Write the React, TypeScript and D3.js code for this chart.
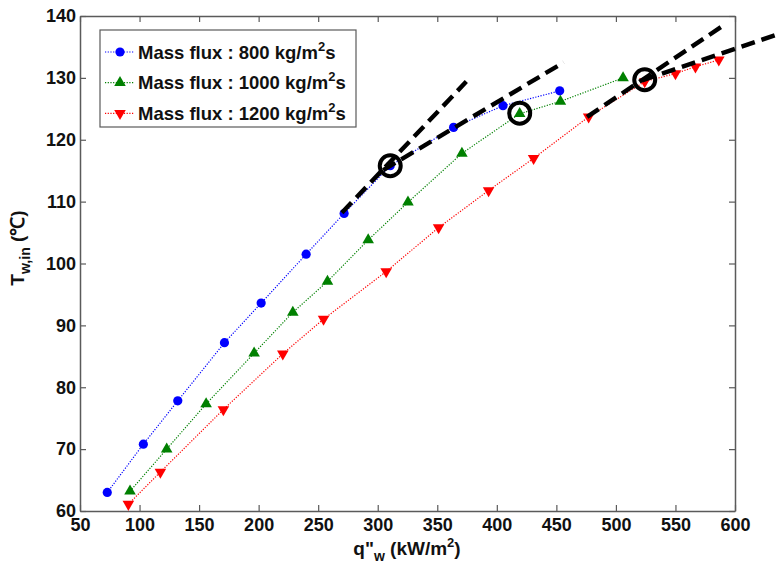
import React, { useEffect, useRef } from 'react';
import * as d3 from 'd3';

// heat flux q"w (kW/m2) and inner wall temperature (C) for each mass flux
const q800 = [72.9, 103.2, 132.1, 171.3, 202.1, 239.9, 271.8, 310.5, 363.7, 405.2, 452.8];
const t800 = [63.0, 70.8, 77.8, 87.2, 93.6, 101.5, 108.1, 115.8, 122.0, 125.5, 127.9];
const q1000 = [92.0, 122.8, 155.9, 196.2, 228.7, 257.8, 292.0, 325.4, 370.7, 419.2, 453.4, 506.0];
const t1000 = [63.2, 70.0, 77.3, 85.5, 92.1, 97.1, 103.8, 109.9, 117.8, 124.2, 126.2, 130.0];
const q1200 = [90.6, 117.5, 170.4, 220.3, 254.5, 307.1, 351.1, 393.1, 430.9, 477.1, 524.2, 550.0, 566.8, 586.4];
const t1200 = [61.1, 66.3, 76.4, 85.4, 91.0, 98.7, 105.8, 111.8, 117.0, 123.7, 129.4, 130.7, 131.8, 132.9];

const seriesNames = ['800', '1000', '1200'];
const seriesColors = ['#0000ff', '#008000', '#ff0000'];

// slope-change tangent lines [q1, T1, q2, T2]
const tangentLines = [
  [269.9, 108.2, 374.4, 129.4],
  [304.6, 115.1, 456.1, 132.5],
  [475.8, 123.7, 592.0, 138.7],
  [522.0, 129.6, 638.2, 137.2],
];
// transition points (circled)
const transitionQ = [310.5, 419.2, 524.2];
const transitionT = [115.8, 124.3, 129.7];

const xTicks = [50, 100, 150, 200, 250, 300, 350, 400, 450, 500, 550, 600];
const yTicks = [60, 70, 80, 90, 100, 110, 120, 130, 140];

const W = 780;
const H = 570;
const font = '"Liberation Sans", Arial, sans-serif';

const App = () => {
  const svgRef = useRef<SVGSVGElement>(null);

  useEffect(() => {
    const x = d3.scaleLinear().domain([50, 600]).range([80, 735]);
    const y = d3.scaleLinear().domain([60, 140]).range([511, 16]);
    const svg = d3.select(svgRef.current);
    svg.selectAll('*').remove();

    const axisColor = '#5a5a5a';

    // box + inward ticks (matlab style)
    const bottom = svg.append('g').attr('transform', `translate(0,${y(60)})`)
      .call(d3.axisBottom(x).tickValues(xTicks).tickSizeInner(-6).tickSizeOuter(0).tickPadding(6));
    const left = svg.append('g').attr('transform', `translate(${x(50)},0)`)
      .call(d3.axisLeft(y).tickValues(yTicks).tickSizeInner(-6).tickSizeOuter(0).tickPadding(4));
    const top = svg.append('g').attr('transform', `translate(0,${y(140)})`)
      .call(d3.axisTop(x).tickValues(xTicks).tickSizeInner(-6).tickSizeOuter(0).tickFormat(() => ''));
    const right = svg.append('g').attr('transform', `translate(${x(600)},0)`)
      .call(d3.axisRight(y).tickValues(yTicks).tickSizeInner(-6).tickSizeOuter(0).tickFormat(() => ''));
    [bottom, left, top, right].forEach(g => {
      g.select('.domain').attr('stroke', axisColor).attr('stroke-width', 1.5);
      g.selectAll('.tick line').attr('stroke', axisColor).attr('stroke-width', 1.2);
      g.selectAll('.tick text')
        .attr('font-family', font).attr('font-weight', 'bold').attr('font-size', 18).attr('fill', '#111');
    });
    bottom.selectAll('.tick text').attr('dy', '0.8em');

    const allQ = [q800, q1000, q1200];
    const allT = [t800, t1000, t1200];
    const line = d3.line<number>();

    const triUp = d3.symbol().type(d3.symbolTriangle).size(58);

    allQ.forEach((qs, i) => {
      const pts: [number, number][] = qs.map((q, j) => [x(q), y(allT[i][j])]);
      svg.append('path')
        .attr('d', line(pts as any))
        .attr('fill', 'none')
        .attr('stroke', seriesColors[i])
        .attr('stroke-width', 1.2)
        .attr('stroke-dasharray', '1.2,1.5');
      const g = svg.append('g');
      pts.forEach(([px, py]) => {
        if (i === 0) {
          g.append('circle').attr('cx', px).attr('cy', py).attr('r', 4.6).attr('fill', seriesColors[i]);
        } else {
          g.append('path')
            .attr('d', triUp()!)
            .attr('transform', `translate(${px},${py})${i === 2 ? ' rotate(180)' : ''}`)
            .attr('fill', seriesColors[i]);
        }
      });
    });

    // tangent dashed lines
    tangentLines.forEach(([q1, t1, q2, t2]) => {
      svg.append('line')
        .attr('x1', x(q1)).attr('y1', y(t1)).attr('x2', x(q2)).attr('y2', y(t2))
        .attr('stroke', '#000').attr('stroke-width', 4.4)
        .attr('stroke-dasharray', '14,7');
    });

    transitionQ.forEach((q, i) => {
      svg.append('circle')
        .attr('cx', x(q)).attr('cy', y(transitionT[i])).attr('r', 10.5)
        .attr('fill', 'none').attr('stroke', '#000').attr('stroke-width', 4);
    });

    // legend
    const lg = svg.append('g');
    lg.append('rect').attr('x', 100).attr('y', 30).attr('width', 256).attr('height', 97)
      .attr('fill', '#fff').attr('stroke', axisColor).attr('stroke-width', 1.2);
    seriesNames.forEach((name, i) => {
      const cy = 52 + i * 30.7;
      lg.append('line').attr('x1', 105).attr('x2', 134).attr('y1', cy).attr('y2', cy)
        .attr('stroke', seriesColors[i]).attr('stroke-width', 1.2).attr('stroke-dasharray', '1.2,1.5');
      if (i === 0) {
        lg.append('circle').attr('cx', 120).attr('cy', cy).attr('r', 4.6).attr('fill', seriesColors[i]);
      } else {
        lg.append('path').attr('d', triUp()!)
          .attr('transform', `translate(120,${cy})${i === 2 ? ' rotate(180)' : ''}`)
          .attr('fill', seriesColors[i]);
      }
      const t = lg.append('text').attr('x', 138).attr('y', cy + 6.5)
        .attr('font-family', font).attr('font-weight', 'bold').attr('font-size', 18.5).attr('fill', '#111');
      t.append('tspan').text(`Mass flux : ${name} kg/m`);
      t.append('tspan').attr('dy', -8).attr('font-size', 13).text('2');
      t.append('tspan').attr('dy', 8).text('s');
    });

    // x label
    const xl = svg.append('text').attr('x', 407).attr('y', 555).attr('text-anchor', 'middle')
      .attr('font-family', font).attr('font-weight', 'bold').attr('font-size', 19).attr('fill', '#111');
    xl.append('tspan').text('q"');
    xl.append('tspan').attr('dy', 6).attr('font-size', 14).text('w');
    xl.append('tspan').attr('dy', -6).text(' (kW/m');
    xl.append('tspan').attr('dy', -8).attr('font-size', 13).text('2');
    xl.append('tspan').attr('dy', 8).text(')');

    // y label
    const yl = svg.append('text')
      .attr('transform', `translate(24,248) rotate(-90)`)
      .attr('text-anchor', 'middle')
      .attr('font-family', font).attr('font-weight', 'bold').attr('font-size', 19).attr('fill', '#111');
    yl.append('tspan').text('T');
    yl.append('tspan').attr('dy', 6).attr('font-size', 14).text('w,in');
    yl.append('tspan').attr('dy', -6).text(' (℃)');
  }, []);

  return (
    <svg ref={svgRef} width={W} height={H}
      style={{ position: 'absolute', left: 0, top: 0, background: '#fff' }} />
  );
};

export default App;
